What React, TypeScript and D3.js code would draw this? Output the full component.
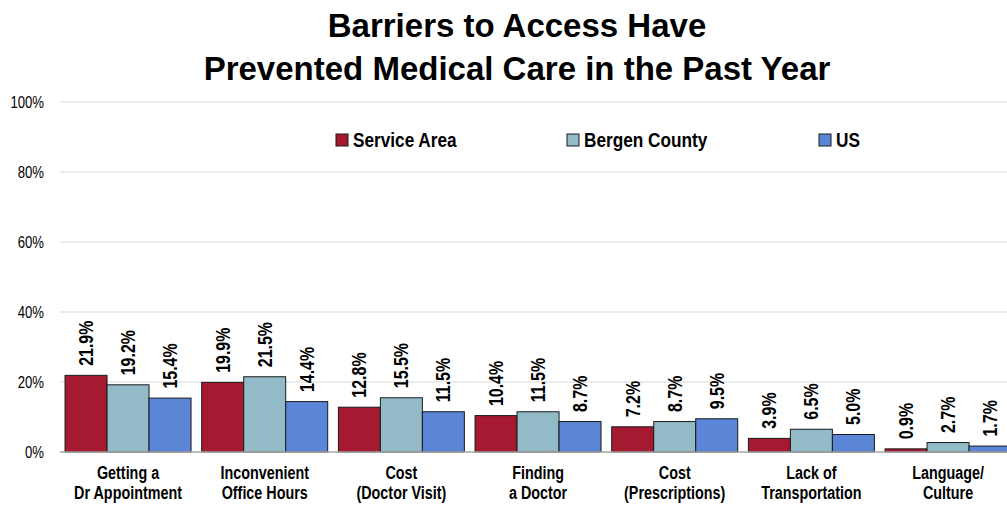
import React from "react";
import * as d3 from "d3";

const categories = [
  ["Getting a", "Dr Appointment"],
  ["Inconvenient", "Office Hours"],
  ["Cost", "(Doctor Visit)"],
  ["Finding", "a Doctor"],
  ["Cost", "(Prescriptions)"],
  ["Lack of", "Transportation"],
  ["Language/", "Culture"],
];
const seriesNames = ["Service Area", "Bergen County", "US"];
const serviceArea = [21.9, 19.9, 12.8, 10.4, 7.2, 3.9, 0.9];
const bergenCounty = [19.2, 21.5, 15.5, 11.5, 8.7, 6.5, 2.7];
const us = [15.4, 14.4, 11.5, 8.7, 9.5, 5.0, 1.7];
const yTicks = [0, 20, 40, 60, 80, 100];
const colors = ["#A51931", "#92BAC7", "#5B86D7"];

const W = 1007;
const H = 506;
const FONT = "'Liberation Sans', Arial, Helvetica, sans-serif";
const NARROW = 0.82;

export default function App() {
  const series = [serviceArea, bergenCounty, us];
  const left = 59.7;
  const band = 136.67;
  const x0 = d3
    .scaleBand<number>()
    .domain(d3.range(categories.length))
    .range([left, left + band * categories.length])
    .paddingInner(10.67 / band)
    .paddingOuter(5.33 / band);
  const x1 = d3
    .scaleBand<number>()
    .domain([0, 1, 2])
    .range([0, x0.bandwidth()]);
  const y = d3.scaleLinear().domain([0, 100]).range([452, 102]);
  const legendX = [336, 567, 819];

  return (
    <svg
      width={W}
      height={H}
      style={{ position: "absolute", left: 0, top: 0, background: "#fff" }}
      fontFamily={FONT}
    >
      <text x={517} y={36.5} textAnchor="middle" fontSize={33} fontWeight="bold" fill="#000">
        Barriers to Access Have
      </text>
      <text x={517} y={80} textAnchor="middle" fontSize={33} fontWeight="bold" fill="#000">
        Prevented Medical Care in the Past Year
      </text>

      {yTicks.map((t) => (
        <g key={t}>
          {t > 0 && (
            <line x1={60} x2={W} y1={y(t)} y2={y(t)} stroke="#d9d9d9" strokeWidth={1} />
          )}
          <g transform={`translate(44,${y(t)}) scale(${NARROW},1)`}>
            <text x={0} y={0} dy="0.36em" textAnchor="end" fontSize={16} fill="#000">
              {t}%
            </text>
          </g>
        </g>
      ))}

      {categories.map((c, i) => {
        const gx = (x0(i) as number) + x0.bandwidth() / 2;
        return (
          <g key={i}>
            {series.map((s, j) => {
              const bx = (x0(i) as number) + (x1(j) as number);
              const bw = x1.bandwidth();
              const cx = bx + bw / 2;
              const ty = y(s[i]) - 9.5;
              return (
                <g key={j}>
                  <rect
                    x={bx}
                    y={y(s[i])}
                    width={bw}
                    height={y(0) - y(s[i])}
                    fill={colors[j]}
                    stroke="#1a1a1a"
                    strokeWidth={1}
                  />
                  <g transform={`translate(${cx + 7},${ty}) rotate(-90) scale(${NARROW},1)`}>
                    <text x={0} y={0} fontSize={19.5} fontWeight="bold" fill="#000">
                      {s[i].toFixed(1)}%
                    </text>
                  </g>
                </g>
              );
            })}
            <g transform={`translate(${gx},479) scale(${NARROW},1)`}>
              <text x={0} y={0} textAnchor="middle" fontSize={17.5} fontWeight="bold" fill="#000">
                <tspan x={0}>{c[0]}</tspan>
                <tspan x={0} dy={20}>
                  {c[1]}
                </tspan>
              </text>
            </g>
          </g>
        );
      })}

      <line x1={60} x2={W} y1={y(0)} y2={y(0)} stroke="#a6a6a6" strokeWidth={1.5} />

      {seriesNames.map((n, j) => {
        const lx = legendX[j];
        return (
          <g key={n}>
            <rect x={lx} y={134} width={12} height={12} fill={colors[j]} stroke="#1a1a1a" strokeWidth={1} />
            <g transform={`translate(${lx + 17},146.5) scale(${NARROW},1)`}>
              <text x={0} y={0} fontSize={21} fontWeight="bold" fill="#000">
                {n}
              </text>
            </g>
          </g>
        );
      })}
    </svg>
  );
}
